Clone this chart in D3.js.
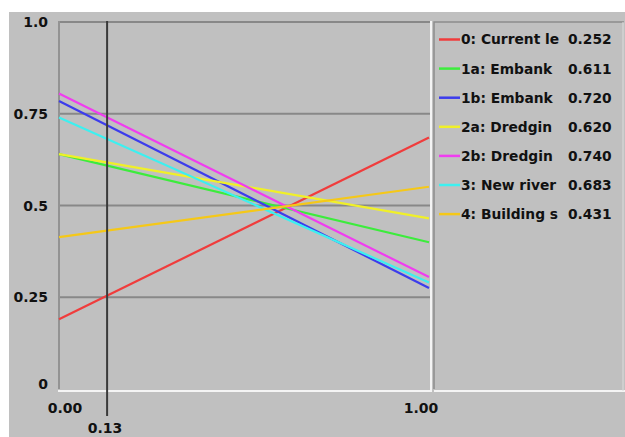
<!DOCTYPE html>
<html><head><meta charset="utf-8">
<script src="https://cdn.jsdelivr.net/npm/d3@7"></script>
<style>html,body{margin:0;padding:0;background:#fff;overflow:hidden}</style>
</head><body>
<svg id="c" width="625" height="437"></svg>
<script>
const seriesNames = ["0: Current le","1a: Embank","1b: Embank","2a: Dredgin","2b: Dredgin","3: New river","4: Building s"];
const startValues = [0.19, 0.64, 0.785, 0.64, 0.805, 0.74, 0.414];
const endValues   = [0.685, 0.40, 0.275, 0.465, 0.305, 0.29, 0.551];
const markerValues = ["0.252","0.611","0.720","0.620","0.740","0.683","0.431"];
const seriesColors = ["#f03c3c","#3cec3c","#3c3cec","#f0f028","#f03cf0","#3cf0f0","#f5c818"];
const marker = 0.13;
const yTicks = [0, 0.25, 0.5, 0.75, 1.0];
const yTickLabels = ["0","0.25","0.5","0.75","1.0"];
const xTicks = [0, 1];
const xTickLabels = ["0.00","1.00"];
const markerLabel = "0.13";

const svg = d3.select("#c");
const x = d3.scaleLinear().domain([0,1]).range([59,429]);
const y = d3.scaleLinear().domain([0,1]).range([389,22]);
const font = "'DejaVu Sans', sans-serif";

svg.append("rect").attr("x",9).attr("y",12).attr("width",616).attr("height",425).attr("fill","#c0c0c0");

// grid
svg.selectAll("line.grid").data(yTicks.filter(d=>d>0)).join("line")
  .attr("x1",x(0)).attr("x2",x(1)+1).attr("y1",d=>y(d)).attr("y2",d=>y(d))
  .attr("stroke","#888").attr("stroke-width",2);
svg.append("line").attr("x1",x(0)).attr("x2",x(0)).attr("y1",y(1)-1).attr("y2",y(0))
  .attr("stroke","#939393").attr("stroke-width",2);
// etched bottom/right of plot
svg.append("line").attr("x1",x(0)-1).attr("x2",x(1)+2).attr("y1",y(0)+2).attr("y2",y(0)+2)
  .attr("stroke","#f4f4f4").attr("stroke-width",2);
svg.append("line").attr("x1",x(1)+2).attr("x2",x(1)+2).attr("y1",y(1)-1).attr("y2",y(0)+3)
  .attr("stroke","#f4f4f4").attr("stroke-width",2);

// legend panel border
const lx = 434;
svg.append("path").attr("d",`M${lx},${y(0)} V${y(1)} H624`).attr("fill","none").attr("stroke","#8c8c8c").attr("stroke-width",1.5);
svg.append("line").attr("x1",lx).attr("x2",625).attr("y1",y(0)+2).attr("y2",y(0)+2).attr("stroke","#f4f4f4").attr("stroke-width",2);
svg.append("line").attr("x1",623).attr("x2",623).attr("y1",y(1)).attr("y2",y(0)+2).attr("stroke","#dcdcdc").attr("stroke-width",1);

// series lines
seriesNames.forEach((n,i)=>{
  svg.append("line").attr("x1",x(0)).attr("y1",y(startValues[i])).attr("x2",x(1)).attr("y2",y(endValues[i]))
    .attr("stroke",seriesColors[i]).attr("stroke-width",2.2);
});

// marker
svg.append("line").attr("x1",x(marker)).attr("x2",x(marker)).attr("y1",y(1)-1).attr("y2",416)
  .attr("stroke","#3a3a3a").attr("stroke-width",2);

// y labels
svg.selectAll("text.yl").data(yTicks).join("text")
  .attr("x",48).attr("y",(d,i)=>y(d)+(d===0?-5:0)).attr("dy","0.36em").attr("text-anchor","end")
  .attr("font-family",font).attr("font-weight","bold").attr("font-size",14).attr("fill","#111")
  .text((d,i)=>yTickLabels[i]);
// x labels
svg.selectAll("text.xl").data(xTicks).join("text")
  .attr("x",d=>d===0?x(d)+6:x(d)-8).attr("y",413).attr("text-anchor","middle")
  .attr("font-family",font).attr("font-weight","bold").attr("font-size",14).attr("fill","#111")
  .text((d,i)=>xTickLabels[i]);
svg.append("text").attr("x",x(marker)-2).attr("y",432.5).attr("text-anchor","middle")
  .attr("font-family",font).attr("font-weight","bold").attr("font-size",14).attr("fill","#111").text(markerLabel);

// legend
const rowY = i => 39.5 + i*29.1;
seriesNames.forEach((n,i)=>{
  svg.append("line").attr("x1",439).attr("x2",460).attr("y1",rowY(i)).attr("y2",rowY(i))
    .attr("stroke",seriesColors[i]).attr("stroke-width",2.5);
  svg.append("text").attr("x",461).attr("y",rowY(i)).attr("dy","0.36em")
    .attr("font-family",font).attr("font-weight","bold").attr("font-size",13.8).attr("fill","#111").text(n);
  svg.append("text").attr("x",568).attr("y",rowY(i)).attr("dy","0.36em")
    .attr("font-family",font).attr("font-weight","bold").attr("font-size",13.8).attr("fill","#111").text(markerValues[i]);
});
</script>
</body></html>
